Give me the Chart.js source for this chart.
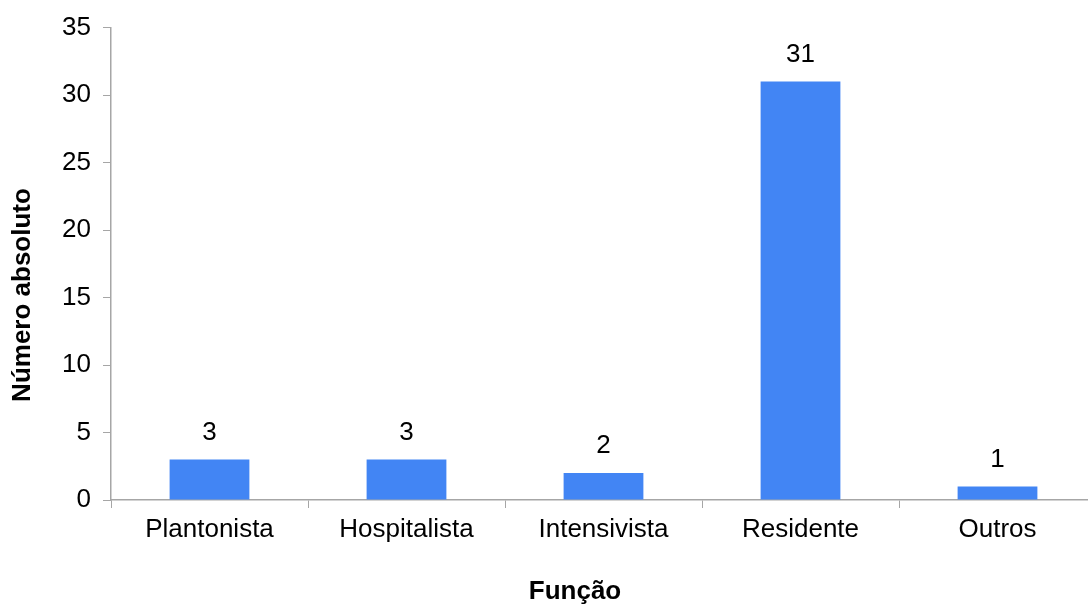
<!DOCTYPE html>
<html lang="pt">
<head>
    <meta charset="UTF-8">
    <title>Função</title>
    <script src="https://cdn.jsdelivr.net/npm/chart.js"></script>
    <style>
        html, body { margin: 0; padding: 0; overflow: hidden; background: #fff; }
        #chart { position: absolute; left: 0; top: 0; }
    </style>
</head>
<body>
    <canvas id="chart" width="1100" height="604"></canvas>
    <script>
        const categories = ['Plantonista', 'Hospitalista', 'Intensivista', 'Residente', 'Outros'];
        const counts = [3, 3, 2, 31, 1];
        const yTicks = [0, 5, 10, 15, 20, 25, 30, 35];
        const xTitle = 'Função';
        const yTitle = 'Número absoluto';

        const FONT = "'Liberation Sans', Arial, sans-serif";
        const axisGray = '#a6a6a6';

        // value labels above bars + axis titles (placed like the original, not centred on the plot)
        const extraText = {
            id: 'extraText',
            afterDatasetsDraw(chart) {
                const ctx = chart.ctx;
                const meta = chart.getDatasetMeta(0);
                ctx.save();
                ctx.fillStyle = '#000';
                ctx.textAlign = 'center';
                ctx.textBaseline = 'middle';
                ctx.font = '26px ' + FONT;
                meta.data.forEach((bar, i) => {
                    ctx.fillText(String(counts[i]), bar.x, bar.y - 27);
                });

                ctx.font = 'bold 26px ' + FONT;
                ctx.fillText(xTitle, 575, 592);

                ctx.translate(23, 295);
                ctx.rotate(-Math.PI / 2);
                ctx.fillText(yTitle, 0, 0);
                ctx.restore();
            }
        };

        new Chart(document.getElementById('chart'), {
            type: 'bar',
            data: {
                labels: categories,
                datasets: [{
                    data: counts,
                    backgroundColor: '#4285f4',
                    categoryPercentage: 1,
                    barPercentage: 0.405
                }]
            },
            options: {
                responsive: false,
                animation: false,
                layout: { padding: { top: 27, right: 4, left: 0, bottom: 0 } },
                plugins: {
                    legend: { display: false },
                    tooltip: { enabled: false }
                },
                scales: {
                    x: {
                        offset: true,
                        grid: {
                            offset: true,
                            drawOnChartArea: false,
                            tickLength: 8,
                            color: axisGray
                        },
                        border: { color: axisGray, width: 1.5 },
                        ticks: {
                            color: '#000',
                            font: { family: FONT, size: 26 },
                            padding: 6
                        },
                        afterFit(scale) { scale.height = 104; }
                    },
                    y: {
                        min: 0,
                        max: 35,
                        afterBuildTicks(scale) {
                            scale.ticks = yTicks.map(v => ({ value: v }));
                        },
                        grid: {
                            drawOnChartArea: false,
                            tickLength: 8,
                            color: axisGray
                        },
                        border: { color: axisGray, width: 1.5 },
                        ticks: {
                            color: '#000',
                            font: { family: FONT, size: 26 },
                            padding: 12
                        },
                        afterFit(scale) { scale.width = 111; }
                    }
                }
            },
            plugins: [extraText]
        });
    </script>
</body>
</html>
